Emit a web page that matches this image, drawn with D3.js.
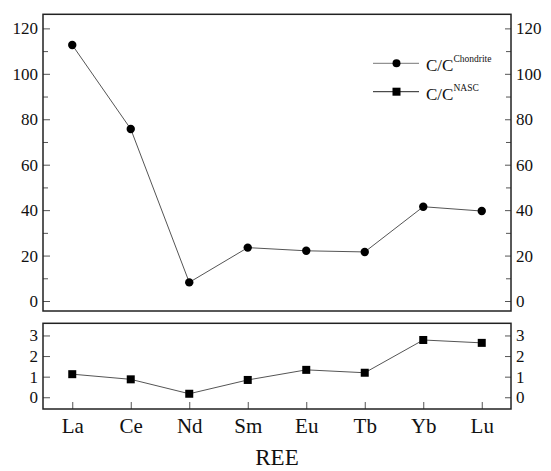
<!DOCTYPE html>
<html>
<head>
<meta charset="utf-8">
<script src="https://cdn.jsdelivr.net/npm/d3@7"></script>
<style>
  body { margin: 0; background: #fff; }
  .tick line { stroke: #555; }
</style>
</head>
<body>
<script>
//chart data
var elements = ["La", "Ce", "Nd", "Sm", "Eu", "Tb", "Yb", "Lu"];
var chondrite = [112.7, 75.7, 8.2, 23.5, 22.1, 21.6, 41.5, 39.6];
var nasc = [1.12, 0.87, 0.17, 0.84, 1.33, 1.19, 2.78, 2.64];
var topTicks = [0, 20, 40, 60, 80, 100, 120];
var topMinor = [10, 30, 50, 70, 90, 110];
var bottomTicks = [0, 1, 2, 3];

var serif = "'Liberation Serif'";
var width = 551, height = 471;
var left = 43, right = 511;

var svg = d3.select("body").append("svg")
    .attr("width", width)
    .attr("height", height);

//shared x scale
var x = d3.scalePoint()
    .domain(elements)
    .range([left, right])
    .padding(0.5);

//upper panel
var yTop = d3.scaleLinear().domain([-4.4, 126.2]).range([311, 14.3]);
//lower panel
var yBot = d3.scaleLinear().domain([-0.57, 3.59]).range([409, 323.3]);

function yAxes(scale, ticks, minor){
    var g = svg.append("g");
    g.append("g").attr("transform", "translate(" + left + ",0)")
        .call(d3.axisLeft(scale).tickValues(ticks).tickFormat(d3.format("d"))
            .tickSizeInner(-7).tickSizeOuter(0).tickPadding(5));
    g.append("g").attr("transform", "translate(" + right + ",0)")
        .call(d3.axisRight(scale).tickValues(ticks).tickFormat(d3.format("d"))
            .tickSizeInner(-6).tickSizeOuter(0).tickPadding(5));
    if (minor){
        g.append("g").attr("transform", "translate(" + left + ",0)")
            .call(d3.axisLeft(scale).tickValues(minor).tickSizeInner(-5).tickSizeOuter(0).tickFormat(""));
        g.append("g").attr("transform", "translate(" + right + ",0)")
            .call(d3.axisRight(scale).tickValues(minor).tickSizeInner(-5).tickSizeOuter(0).tickFormat(""));
    }
    g.selectAll(".domain").remove();
    g.selectAll("text").style("font-family", serif).style("font-size", "17px").attr("fill", "#111");
}

yAxes(yTop, topTicks, topMinor);
yAxes(yBot, bottomTicks, null);

//x axis along the lower panel
var xg = svg.append("g").attr("transform", "translate(0,409)")
    .call(d3.axisBottom(x).tickSizeInner(-7).tickSizeOuter(0).tickPadding(9));
xg.select(".domain").remove();
xg.selectAll("text").style("font-family", serif).style("font-size", "21px").attr("fill", "#111");

//panel frames
[[14.3, 311], [323.3, 409]].forEach(function(p){
    svg.append("rect")
        .attr("x", left).attr("y", p[0])
        .attr("width", right - left).attr("height", p[1] - p[0])
        .attr("fill", "none").attr("stroke", "#222").attr("stroke-width", 1.5);
});

//lines
var lineTop = d3.line().x(function(d, i){ return x(elements[i]); }).y(function(d){ return yTop(d); });
var lineBot = d3.line().x(function(d, i){ return x(elements[i]); }).y(function(d){ return yBot(d); });

svg.append("path").datum(chondrite).attr("d", lineTop)
    .attr("fill", "none").attr("stroke", "#555").attr("stroke-width", 1);
svg.append("path").datum(nasc).attr("d", lineBot)
    .attr("fill", "none").attr("stroke", "#555").attr("stroke-width", 1);

svg.selectAll(".dot").data(chondrite).enter().append("circle")
    .attr("class", "dot")
    .attr("cx", function(d, i){ return x(elements[i]); })
    .attr("cy", function(d){ return yTop(d); })
    .attr("r", 4.2)
    .attr("fill", "#000");

svg.selectAll(".sq").data(nasc).enter().append("rect")
    .attr("class", "sq")
    .attr("x", function(d, i){ return x(elements[i]) - 4; })
    .attr("y", function(d){ return yBot(d) - 4; })
    .attr("width", 8).attr("height", 8)
    .attr("fill", "#000");

//legend
var legend = svg.append("g");
var items = [{sup: "Chondrite", y: 63.3, shape: "circle", stroke: "#777"},
             {sup: "NASC", y: 91.7, shape: "square", stroke: "#222"}];
items.forEach(function(it){
    legend.append("line").attr("x1", 373).attr("x2", 419)
        .attr("y1", it.y).attr("y2", it.y)
        .attr("stroke", it.stroke).attr("stroke-width", 1);
    if (it.shape == "circle"){
        legend.append("circle").attr("cx", 396.5).attr("cy", it.y).attr("r", 4).attr("fill", "#000");
    } else {
        legend.append("rect").attr("x", 392.5).attr("y", it.y - 4).attr("width", 8).attr("height", 8).attr("fill", "#000");
    }
    var t = legend.append("text").attr("x", 426).attr("y", it.y + 8)
        .style("font-family", serif).style("font-size", "17px").attr("fill", "#111");
    t.append("tspan").text("C/C");
    t.append("tspan").attr("dy", -9).style("font-size", "9.5px").text(it.sup);
});

//axis title
svg.append("text")
    .attr("x", 277).attr("y", 465)
    .attr("text-anchor", "middle")
    .style("font-family", serif)
    .style("font-size", "23px")
    .attr("fill", "#111")
    .text("REE");
</script>
</body>
</html>
